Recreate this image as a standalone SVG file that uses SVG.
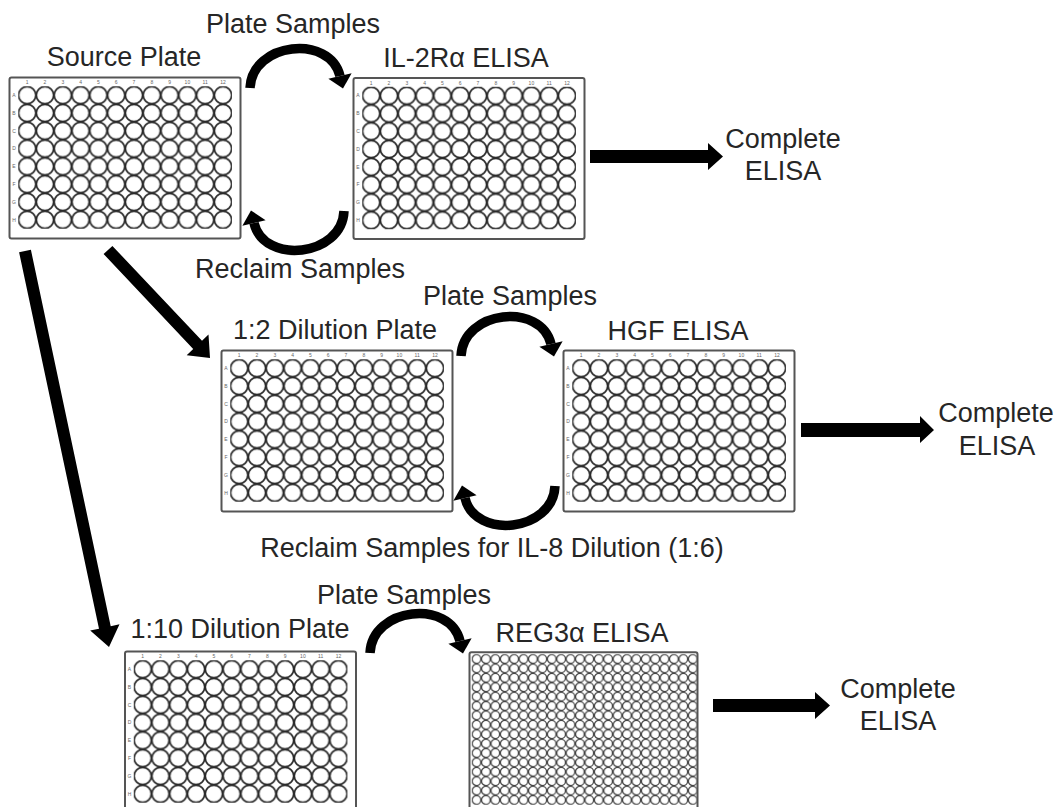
<svg xmlns="http://www.w3.org/2000/svg" xmlns:xlink="http://www.w3.org/1999/xlink" width="1059" height="807" viewBox="0 0 1059 807">
<style>
.lbl{font-family:"Liberation Sans",Arial,sans-serif;font-size:27px;fill:#262626;text-anchor:middle}
.tiny{font-family:"Liberation Sans",Arial,sans-serif;font-size:5px;fill:#666;text-anchor:middle}
.plate{fill:#fff;stroke:#555;stroke-width:2}
.arc{fill:none;stroke:#000;stroke-width:9.5}
.blk{fill:#000}
</style>
<defs>
<pattern id="w96" patternUnits="userSpaceOnUse" x="8.8" y="8.8" width="17.8" height="17.8">
<circle cx="8.9" cy="8.9" r="8.6" fill="#fff" stroke="#2a2a2a" stroke-width="1.7"/>
</pattern>
<pattern id="w384" patternUnits="userSpaceOnUse" x="2.3" y="2" width="9.4" height="9.4">
<circle cx="4.7" cy="4.7" r="4.3" fill="#fff" stroke="#444" stroke-width="1.2"/>
</pattern>
<g id="p96">
<rect x="0" y="0" width="231" height="161" rx="2" class="plate"/>
<rect x="8.8" y="8.8" width="213.6" height="142.4" fill="url(#w96)"/>
<g class="tiny">
<text x="17.7" y="6.5">1</text><text x="35.5" y="6.5">2</text><text x="53.3" y="6.5">3</text><text x="71.1" y="6.5">4</text><text x="88.9" y="6.5">5</text><text x="106.7" y="6.5">6</text><text x="124.5" y="6.5">7</text><text x="142.3" y="6.5">8</text><text x="160.1" y="6.5">9</text><text x="177.9" y="6.5">10</text><text x="195.7" y="6.5">11</text><text x="213.5" y="6.5">12</text>
<text x="4.5" y="19.4">A</text><text x="4.5" y="37.2">B</text><text x="4.5" y="55">C</text><text x="4.5" y="72.8">D</text><text x="4.5" y="90.6">E</text><text x="4.5" y="108.4">F</text><text x="4.5" y="126.2">G</text><text x="4.5" y="144">H</text>
</g>
</g>
<g id="curl">
<path class="arc" d="M0,0 C2,-46 80,-54 90,-12"/>
<polygon class="blk" points="78.4,-9.2 101.6,-14.8 93,0.6"/>
</g>
</defs>

<g id="source-plate">
<use xlink:href="#p96" href="#p96" transform="translate(9.5,77.5)"/>
<text class="lbl" x="124" y="66">Source Plate</text>
</g>
<g id="il2ra-elisa">
<use xlink:href="#p96" href="#p96" transform="translate(353.5,78)"/>
<text class="lbl" x="466" y="67">IL-2Rα ELISA</text>
</g>
<g id="dilution-1-2">
<use xlink:href="#p96" href="#p96" transform="translate(221.5,350.5)"/>
<text class="lbl" x="335" y="339">1:2 Dilution Plate</text>
</g>
<g id="hgf-elisa">
<use xlink:href="#p96" href="#p96" transform="translate(563.5,350.5)"/>
<text class="lbl" x="678" y="340">HGF ELISA</text>
</g>
<g id="dilution-1-10">
<use xlink:href="#p96" href="#p96" transform="translate(125,651.5)"/>
<text class="lbl" x="240" y="638">1:10 Dilution Plate</text>
</g>
<g id="reg3a-elisa">
<g transform="translate(469.5,652.3)">
<rect x="0" y="0" width="228" height="161" rx="2" class="plate"/>
<rect x="2.3" y="2" width="225.6" height="150.4" fill="url(#w384)"/>
</g>
<text class="lbl" x="582" y="642">REG3α ELISA</text>
</g>
<g id="complete-1">
<text class="lbl" x="783" y="148">Complete</text>
<text class="lbl" x="783" y="180">ELISA</text>
</g>
<g id="complete-2">
<text class="lbl" x="996" y="422">Complete</text>
<text class="lbl" x="997" y="455">ELISA</text>
</g>
<g id="complete-3">
<text class="lbl" x="898" y="698">Complete</text>
<text class="lbl" x="898" y="730">ELISA</text>
</g>

<g id="connectors">
<use xlink:href="#curl" href="#curl" transform="translate(250,88)"/>
<text class="lbl" x="293" y="33">Plate Samples</text>
<use xlink:href="#curl" href="#curl" transform="translate(344,211) rotate(180)"/>
<text class="lbl" x="300" y="278">Reclaim Samples</text>
<use xlink:href="#curl" href="#curl" transform="translate(461,356)"/>
<text class="lbl" x="510" y="305">Plate Samples</text>
<use xlink:href="#curl" href="#curl" transform="translate(555,486) rotate(180)"/>
<text class="lbl" x="492" y="557">Reclaim Samples for IL-8 Dilution (1:6)</text>
<use xlink:href="#curl" href="#curl" transform="translate(370,653)"/>
<text class="lbl" x="404" y="604">Plate Samples</text>
<polygon class="blk" points="103.6,254.1 193.2,349 186.7,355.2 210,358 208.5,334.6 202,340.8 112.4,245.9"/>
<polygon class="blk" points="19.1,252.3 99,628.7 90.2,630.5 109,647 119.5,624.3 110.7,626.2 30.9,249.8"/>
<polygon class="blk" points="590,150 708,150 708,143 723,156.5 708,170 708,163 590,163"/>
<polygon class="blk" points="801,423 920,423 920,416 934,430 920,443 920,437 801,437"/>
<polygon class="blk" points="713,699 815,699 815,692 830,705.5 815,719 815,712 713,712"/>
</g>
</svg>
